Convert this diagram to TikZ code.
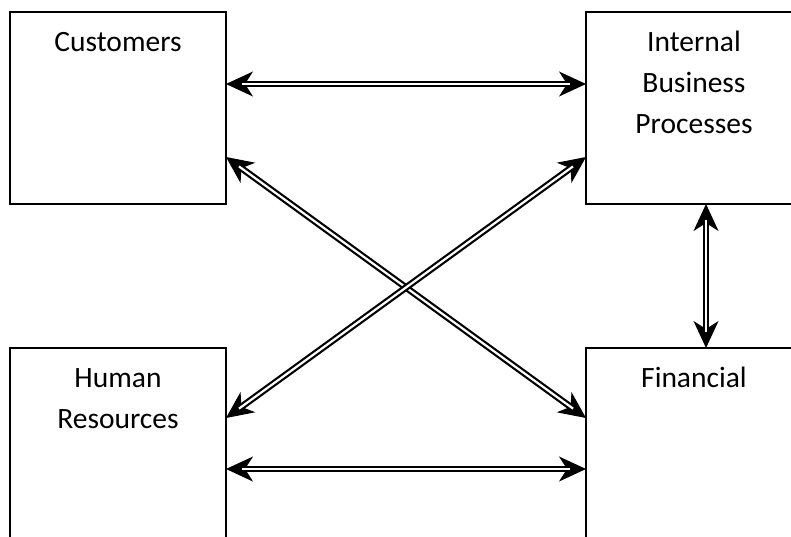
\documentclass[tikz,border=0pt]{standalone}
\usepackage{fontspec}
\setmainfont{Carlito}
\usetikzlibrary{arrows.meta}
\tikzset{
  panel/.style={draw, line width=2pt, minimum width=216pt, minimum height=192pt,
    inner sep=0pt, outer sep=0pt},
  heading/.style={font=\fontsize{29.5pt}{41pt}\selectfont, align=center, inner sep=0pt, anchor=base},
  % solid heads on a plain stroke, then the double shaft laid over it
  link/.style={draw, line width=1.5pt,
    {Stealth[length=27pt, width=25pt, inset=8pt]}-{Stealth[length=27pt, width=25pt, inset=8pt]},
    postaction={draw, -, line width=2.2pt, double=white, double distance=2.2pt,
      shorten <=16pt, shorten >=16pt}}
}
\begin{document}
\begin{tikzpicture}[x=1pt, y=-1pt]
  \useasboundingbox (0,0) rectangle (791,536);
  \clip (0,0) rectangle (791,536);

  % four perspective boxes
  \node[panel] (cust) at (118,108) {};
  \node[panel] (ibp)  at (694,108) {};
  \node[panel] (hr)   at (118,444) {};
  \node[panel] (fin)  at (694,444) {};

  % headings (base anchor sits on the last line)
  \node[heading] (cust-t) at (118,51) {Customers};
  \node[heading] (ibp-t)  at (694,133) {Internal\\Business\\Processes};
  \node[heading] (hr-t)   at (118,428) {Human\\Resources};
  \node[heading] (fin-t)  at (694,387) {Financial};

  % two-way links
  \draw[link] ([yshift=24pt]cust.east) -- ([yshift=24pt]ibp.west);
  \draw[link] ([yshift=-25pt]hr.east) -- ([yshift=-25pt]fin.west);
  \draw[link] ([xshift=12pt]ibp.south) -- ([xshift=12pt]fin.north);
  \draw[link] ([yshift=-49pt]cust.east) -- ([yshift=26pt]fin.west);
  \draw[link] ([yshift=26pt]hr.east) -- ([yshift=-49pt]ibp.west);
\end{tikzpicture}
\end{document}
